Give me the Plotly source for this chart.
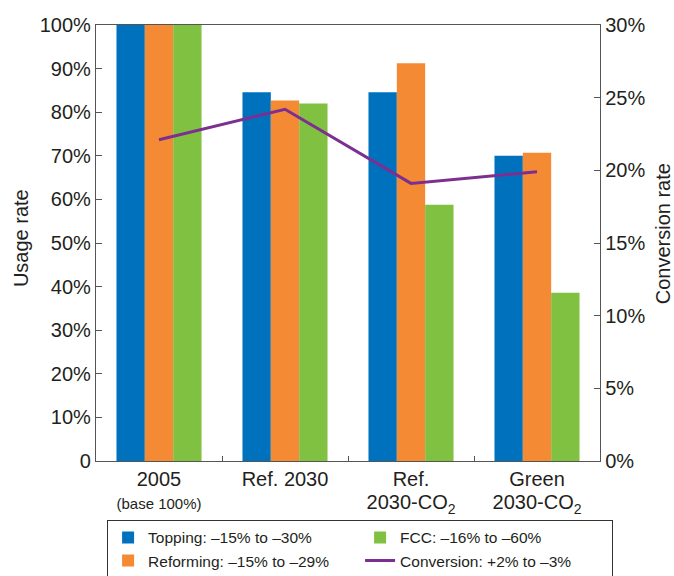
import plotly.graph_objects as go

# Scenario categories (x axis) and their printed tick label lines
categories = ["2005 (base 100%)", "Ref. 2030", "Ref. 2030-CO2", "Green 2030-CO2"]
tick_lines = [
    ["2005", "(base 100%)"],
    ["Ref. 2030"],
    ["Ref.", "2030-CO<sub>2</sub>"],
    ["Green", "2030-CO<sub>2</sub>"],
]

# Unit usage rates, % of 2005 level (left axis)
topping = [100, 84.6, 84.6, 70.0]
reforming = [100, 82.7, 91.2, 70.7]
fcc = [100, 82.0, 58.8, 38.6]

# Conversion rate, % (right axis)
conversion = [22.1, 24.2, 19.1, 19.9]

left_tickvals = [0, 10, 20, 30, 40, 50, 60, 70, 80, 90, 100]
left_ticktext = ["0", "10%", "20%", "30%", "40%", "50%", "60%", "70%", "80%", "90%", "100%"]
right_tickvals = [0, 5, 10, 15, 20, 25, 30]
right_ticktext = ["0%", "5%", "10%", "15%", "20%", "25%", "30%"]

BLUE = "#0071BC"
ORANGE = "#F58A34"
GREEN = "#80C141"
PURPLE = "#7D2F91"
TEXT = "#231F20"
AXIS = "#555555"


def tick_label(lines):
    # main line at 20px; the "(base ...)" note is set smaller
    out = []
    for ln in lines:
        size = 15 if ln.startswith("(") else 20
        out.append(f"<span style='font-size:{size}px'>{ln}</span>")
    return "<br>".join(out)


x_ticktext = [tick_label(l) for l in tick_lines]

fig = go.Figure()
fig.add_trace(go.Bar(x=categories, y=topping, name="Topping: \u201315% to \u201330%",
                     marker=dict(color=BLUE, line=dict(width=0)), legendrank=1))
fig.add_trace(go.Bar(x=categories, y=reforming, name="Reforming: \u201315% to \u201329%",
                     marker=dict(color=ORANGE, line=dict(width=0)), legendrank=3))
fig.add_trace(go.Bar(x=categories, y=fcc, name="FCC: \u201316% to \u201360%",
                     marker=dict(color=GREEN, line=dict(width=0)), legendrank=2))
fig.add_trace(go.Scatter(x=categories, y=conversion, yaxis="y2", mode="lines",
                         name="Conversion: +2% to \u20133%",
                         line=dict(color=PURPLE, width=3), legendrank=4))

fig.update_layout(
    width=674, height=576,
    margin=dict(l=96, r=74, t=25, b=115, autoexpand=False),
    paper_bgcolor="white", plot_bgcolor="white",
    font=dict(family="Liberation Sans, Arial, Helvetica, sans-serif", size=20, color=TEXT),
    barmode="group", bargap=0.325, bargroupgap=0,
    showlegend=True,
    legend=dict(
        orientation="h", x=0.022, y=-0.135,
        xanchor="left", yanchor="top",
        bordercolor="#333333", borderwidth=1, bgcolor="white",
        font=dict(size=15.5, color=TEXT), entrywidth=207, itemwidth=30,
        traceorder="normal",
    ),
    xaxis=dict(
        type="category", range=[-0.5, 3.5],
        tickmode="array", tickvals=categories, ticktext=x_ticktext,
        showline=True, linecolor=AXIS, linewidth=1.3, mirror=True,
        ticks="inside", tickson="boundaries", ticklen=5, tickcolor=AXIS, tickwidth=1.3,
        showgrid=False, zeroline=False, automargin=False,
        tickfont=dict(size=17.7, color=TEXT), ticklabelstandoff=3,
    ),
    yaxis=dict(
        range=[0, 100], tickvals=left_tickvals, ticktext=left_ticktext,
        showline=True, linecolor=AXIS, linewidth=1.3, mirror=True,
        ticks="inside", ticklen=6, tickcolor=AXIS, tickwidth=1.3,
        showgrid=False, zeroline=False, automargin=False,
        tickfont=dict(size=20, color=TEXT),
    ),
    yaxis2=dict(
        overlaying="y", side="right", range=[0, 30],
        tickvals=right_tickvals, ticktext=right_ticktext,
        showline=True, linecolor=AXIS, linewidth=1.3,
        ticks="inside", ticklen=6, tickcolor=AXIS, tickwidth=1.3,
        showgrid=False, zeroline=False, automargin=False,
        tickfont=dict(size=20, color=TEXT),
    ),
)

fig.add_annotation(text="Usage rate", xref="paper", yref="paper", x=-0.149, y=0.511,
                   textangle=-90, showarrow=False, xanchor="center", yanchor="middle",
                   font=dict(size=20, color=TEXT))
fig.add_annotation(text="Conversion rate", xref="paper", yref="paper", x=1.125, y=0.52,
                   textangle=-90, showarrow=False, xanchor="center", yanchor="middle",
                   font=dict(size=20, color=TEXT))

fig.write_html("out.html")
